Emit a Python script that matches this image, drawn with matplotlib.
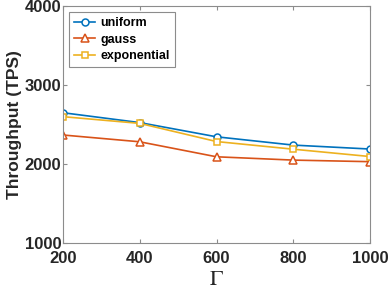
import matplotlib.pyplot as plt

gamma = [200, 400, 600, 800, 1000]
uniform = [2650, 2525, 2345, 2240, 2190]
gauss = [2368, 2282, 2092, 2050, 2030]
exponential = [2600, 2515, 2285, 2188, 2095]

plt.rcParams['font.family'] = ['Liberation Sans', 'DejaVu Sans']
plt.rcParams['mathtext.fontset'] = 'stix'

fig = plt.figure(figsize=(3.88, 2.89), dpi=100)
ax = fig.add_axes([0.162, 0.159, 0.792, 0.82])

ax.plot(gamma, uniform, '-o', color='#0072BD', mfc='white', ms=5, lw=1.2, mew=1.1, label='uniform')
ax.plot(gamma, gauss, '-^', color='#D95319', mfc='white', ms=5.5, lw=1.2, mew=1.1, label='gauss')
ax.plot(gamma, exponential, '-s', color='#EDB120', mfc='white', ms=4.5, lw=1.2, mew=1.1, label='exponential')

ax.set_xlim(200, 1000)
ax.set_ylim(1000, 4000)
ax.set_xticks(gamma)
ax.set_yticks([1000, 2000, 3000, 4000])

for s in ax.spines.values():
    s.set_color('#8c8c8c')
    s.set_linewidth(0.8)
ax.tick_params(direction='in', top=True, right=True, color='#8c8c8c', length=3,
               labelsize=12, pad=1)
ax.tick_params(axis='x', pad=6)
for lab in ax.get_xticklabels() + ax.get_yticklabels():
    lab.set_fontweight('bold')
    lab.set_color('#262626')

ax.set_ylabel('Throughput (TPS)', fontsize=12.5, fontweight='bold', color='#262626', labelpad=2)
ax.set_xlabel(r'$\Gamma$', fontsize=16, color='#262626', labelpad=2)

leg = ax.legend(loc='upper left', prop={'weight': 'bold', 'size': 9},
                fancybox=False, edgecolor='#8c8c8c', framealpha=1,
                handlelength=1.7, borderpad=0.4, labelspacing=0.35,
                handletextpad=0.4, borderaxespad=0.5)
leg.get_frame().set_linewidth(0.8)

fig.savefig('out.png', dpi=100)
